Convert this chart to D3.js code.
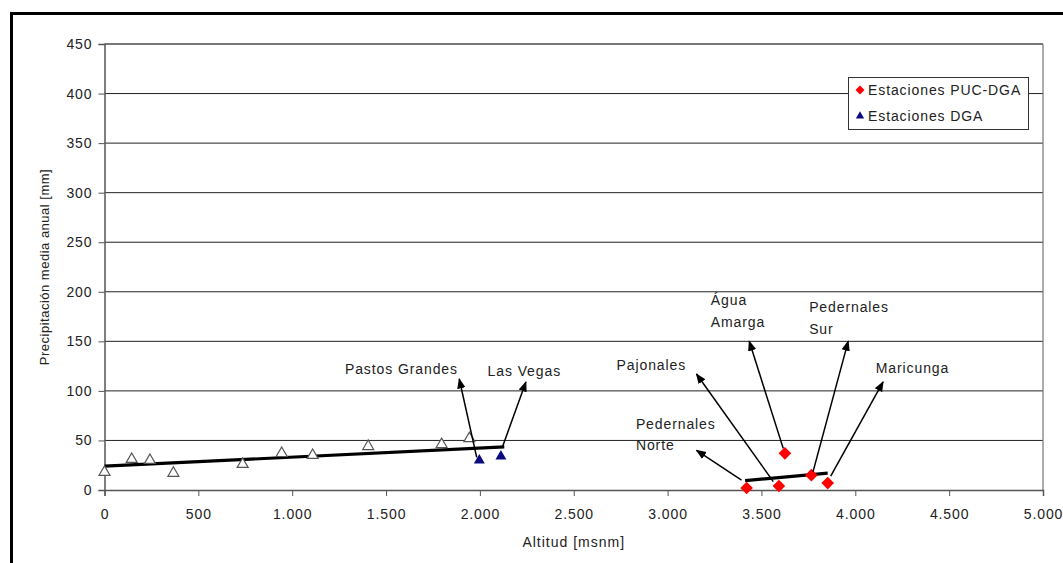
<!DOCTYPE html>
<html><head><meta charset="utf-8">
<script src="https://cdn.jsdelivr.net/npm/d3@7"></script>
<style>
body{margin:0;background:#fff;}
text{font-family:"Liberation Sans",Arial,sans-serif;}
</style></head>
<body><svg id="c" width="1063" height="563"></svg>
<script>
// ---- data ----
const otherAlt = [0, 145, 242, 367, 736, 944, 1109, 1405, 1796, 1944];
const otherPrec = [18, 31, 30, 17, 26, 37, 35, 44, 46, 52];
const dgaNames = ["Pastos Grandes", "Las Vegas"];
const dgaAlt = [1997, 2112];
const dgaPrec = [30, 34];
const pucNames = ["Pedernales Norte", "Pajonales", "Agua Amarga", "Pedernales Sur", "Maricunga"];
const pucAlt = [3421, 3593, 3625, 3766, 3853];
const pucPrec = [2, 4, 37, 15, 7];
const trendLowAlt = [0, 2130];
const trendLowPrec = [24, 43.5];
const trendHighAlt = [3413, 3853];
const trendHighPrec = [9.5, 17];
const yTicks = [0, 50, 100, 150, 200, 250, 300, 350, 400, 450];
const xTicks = [0, 500, 1000, 1500, 2000, 2500, 3000, 3500, 4000, 4500, 5000];
const legendLabels = ["Estaciones PUC-DGA", "Estaciones DGA"];
// annotations: label lines, label anchor (alt, prec of first line), arrow from (alt,prec) to (alt,prec)
const annLines = [["Pastos Grandes"], ["Las Vegas"], ["Água", "Amarga"], ["Pedernales", "Sur"], ["Pajonales"], ["Maricunga"], ["Pedernales", "Norte"]];
const annLabelAlt = [1281, 2041, 3230, 3754, 2728, 4109, 2831];
const annLabelPrec = [122, 120, 191.5, 184.5, 126, 123, 66.5];
const annFromAlt = [1983, 2121, 3616, 3775, 3563, 3869, 3394];
const annFromPrec = [33, 44, 42, 18.5, 8.5, 14, 10];
const annToAlt = [1890, 2245, 3435, 3962, 3154, 4148, 3154];
const annToPrec = [112, 109, 150, 150, 117, 109, 40];

// ---- chart ----
const svg = d3.select("#c");
const m = {l: 104.5, r: 1043, t: 44, b: 490};
const x = d3.scaleLinear().domain([0, 5000]).range([m.l, m.r]);
const y = d3.scaleLinear().domain([0, 450]).range([m.b, m.t]);
const loc = d3.formatLocale({decimal: ",", thousands: ".", grouping: [3], currency: ["", ""]});
const fmt = loc.format(",d");
const FS = 14, LS = 0.9;

// outer frame
svg.append("rect").attr("x", 11.5).attr("y", 13.5).attr("width", 1100).attr("height", 700)
  .attr("fill", "none").attr("stroke", "#000").attr("stroke-width", 3);

// gridlines
svg.append("g").selectAll("line").data(yTicks.filter(d => d > 0)).join("line")
  .attr("x1", m.l).attr("x2", m.r).attr("y1", d => y(d)).attr("y2", d => y(d))
  .attr("stroke", d => d === 450 ? "#777" : "#222").attr("stroke-width", d => d === 450 ? 2 : 1);
svg.append("line").attr("x1", m.r).attr("x2", m.r).attr("y1", m.t).attr("y2", m.b)
  .attr("stroke", "#777").attr("stroke-width", 1.2);

// axes
const yAx = svg.append("g").attr("transform", `translate(${m.l},0)`)
  .call(d3.axisLeft(y).tickValues(yTicks).tickSize(6).tickPadding(6));
const xAx = svg.append("g").attr("transform", `translate(0,${m.b})`)
  .call(d3.axisBottom(x).tickValues(xTicks).tickSize(6).tickPadding(13).tickFormat(fmt));
[yAx, xAx].forEach(g => {
  g.select(".domain").attr("stroke", "#555").attr("stroke-width", 1.5);
  g.selectAll(".tick line").attr("stroke", "#555");
  g.selectAll(".tick text").attr("font-size", FS).attr("letter-spacing", LS).attr("fill", "#222")
    .attr("font-family", "'Liberation Sans',Arial,sans-serif");
});

// axis titles
svg.append("text").attr("x", (m.l + m.r) / 2).attr("y", 547).attr("text-anchor", "middle")
  .attr("font-size", 14).attr("letter-spacing", 1).attr("fill", "#222").text("Altitud [msnm]");
svg.append("text").attr("transform", `translate(49,${(m.t + m.b) / 2}) rotate(-90)`)
  .attr("text-anchor", "middle").attr("font-size", 13).attr("letter-spacing", 0.5).attr("fill", "#222")
  .text("Precipitación media anual [mm]");

// trend lines
const line = d3.line().x(d => x(d[0])).y(d => y(d[1]));
svg.append("path").attr("d", line(trendLowAlt.map((a, i) => [a, trendLowPrec[i]])))
  .attr("stroke", "#000").attr("stroke-width", 3.2).attr("fill", "none");
svg.append("path").attr("d", line(trendHighAlt.map((a, i) => [a, trendHighPrec[i]])))
  .attr("stroke", "#000").attr("stroke-width", 3.2).attr("fill", "none");

// markers
const tri = d3.symbol().type(d3.symbolTriangle).size(52);
const dia = d3.symbol().type(d3.symbolSquare).size(80);
svg.append("g").selectAll("path").data(otherAlt.map((a, i) => [a, otherPrec[i]])).join("path")
  .attr("d", tri).attr("transform", d => `translate(${x(d[0])},${y(d[1])})`)
  .attr("fill", "#fff").attr("stroke", "#555").attr("stroke-width", 1.2);
svg.append("g").selectAll("path").data(dgaAlt.map((a, i) => [a, dgaPrec[i]])).join("path")
  .attr("d", tri).attr("transform", d => `translate(${x(d[0])},${y(d[1])})`)
  .attr("fill", "#0b0b80");
svg.append("g").selectAll("path").data(pucAlt.map((a, i) => [a, pucPrec[i]])).join("path")
  .attr("d", dia).attr("transform", d => `translate(${x(d[0])},${y(d[1])}) rotate(45)`)
  .attr("fill", "#ff0000");

// arrows
const defs = svg.append("defs");
defs.append("marker").attr("id", "ah").attr("viewBox", "0 0 10 10").attr("refX", 9).attr("refY", 5)
  .attr("markerWidth", 7).attr("markerHeight", 7).attr("orient", "auto")
  .append("path").attr("d", "M0,1 L10,5 L0,9 Z").attr("fill", "#000");
const ga = svg.append("g");
annLines.forEach((lines, i) => {
  ga.append("line").attr("x1", x(annFromAlt[i])).attr("y1", y(annFromPrec[i]))
    .attr("x2", x(annToAlt[i])).attr("y2", y(annToPrec[i]))
    .attr("stroke", "#000").attr("stroke-width", 1.5).attr("marker-end", "url(#ah)");
  lines.forEach((t, j) => {
    ga.append("text").attr("x", x(annLabelAlt[i])).attr("y", y(annLabelPrec[i]) + j * 21.5)
      .attr("dy", "0.35em").attr("font-size", FS).attr("letter-spacing", LS).attr("fill", "#222").text(t);
  });
});

// legend
const lg = svg.append("g");
lg.append("rect").attr("x", 848.5).attr("y", 77.5).attr("width", 180).attr("height", 52)
  .attr("fill", "#fff").attr("stroke", "#333").attr("stroke-width", 1);
lg.append("path").attr("d", d3.symbol().type(d3.symbolSquare).size(40))
  .attr("transform", "translate(860,90) rotate(45)").attr("fill", "#ff0000");
lg.append("path").attr("d", d3.symbol().type(d3.symbolTriangle).size(30))
  .attr("transform", "translate(860,116)").attr("fill", "#0b0b80");
legendLabels.forEach((t, i) => {
  lg.append("text").attr("x", 868).attr("y", 90 + i * 26).attr("dy", "0.35em")
    .attr("font-size", FS).attr("letter-spacing", LS).attr("fill", "#222").text(t);
});
</script></body></html>
